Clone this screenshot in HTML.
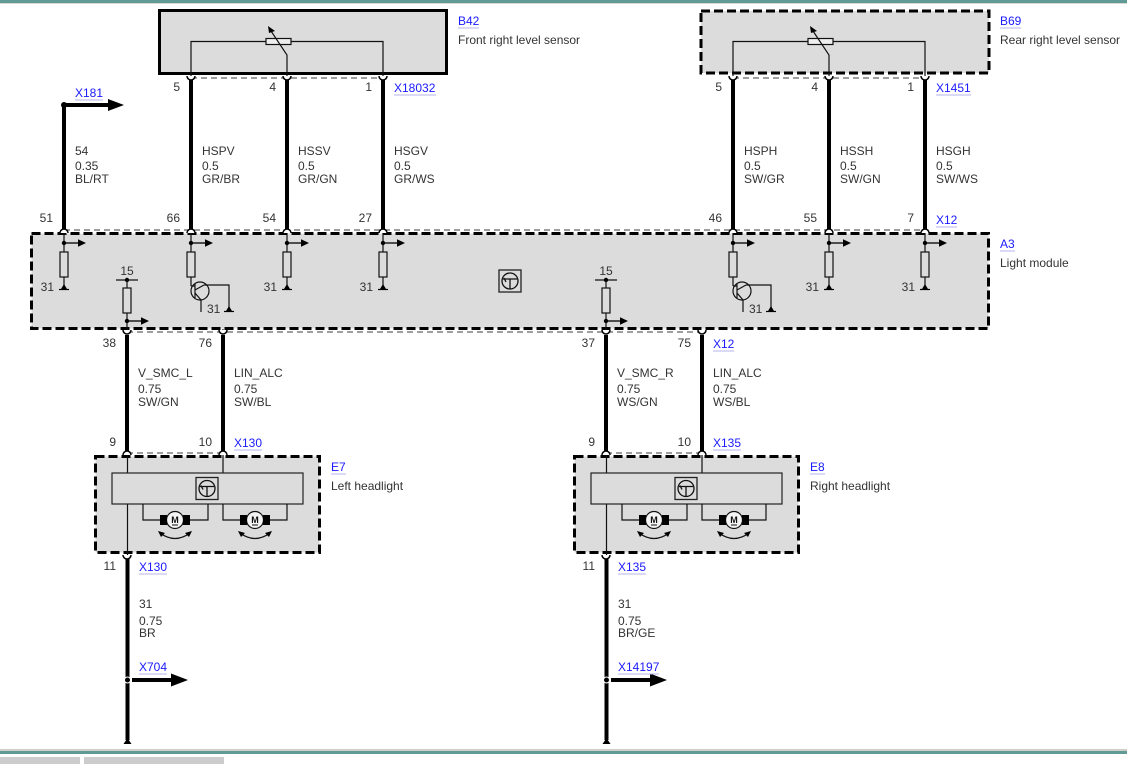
<!DOCTYPE html>
<html><head><meta charset="utf-8">
<style>
html,body{margin:0;padding:0;background:#fff;}
svg{display:block;}
text{font-family:"Liberation Sans",Arial,sans-serif;font-size:12px;fill:#333;}
.b{fill:#1a1aff;}
.ul{stroke:#b4b4ee;stroke-width:1;}
.tw{stroke:#000;stroke-width:4;fill:none;}
.th{stroke:#111;stroke-width:1.2;fill:none;}
.dsh{stroke:#000;stroke-width:3;stroke-dasharray:9 4;fill:#dcdcdc;}
.gd{stroke:#666;stroke-width:1.3;stroke-dasharray:6 4;fill:none;}
.cap{stroke:#000;stroke-width:1.5;fill:#fff;}
</style></head>
<body>
<svg width="1127" height="764" viewBox="0 0 1127 764" xmlns="http://www.w3.org/2000/svg">
<defs>
  <g id="ctl">
    <rect x="-11" y="-11" width="22" height="22" fill="#dcdcdc" stroke="#222" stroke-width="1.3"/>
    <circle cx="0" cy="0" r="8" fill="none" stroke="#111" stroke-width="1.3"/>
    <path d="M-7,-2 L7,-2 M0,-2 L0,8 M-6,-3 L-4,1" stroke="#111" stroke-width="1.3" fill="none"/>
  </g>
  <g id="gnd">
    <polygon points="0,-4 -3,1 3,1" fill="#000"/>
    <line x1="-5" y1="1.5" x2="5" y2="1.5" stroke="#000" stroke-width="1.2"/>
  </g>
  <g id="arr">
    <line x1="0" y1="0" x2="15" y2="0" stroke="#000" stroke-width="1.3"/>
    <polygon points="14,-3.8 22,0 14,3.8" fill="#000"/>
  </g>
  <g id="motor">
    <circle cx="0" cy="0" r="8.5" fill="#f4f4f4" stroke="#111" stroke-width="1.2"/>
    <rect x="-15" y="-5" width="7" height="10" fill="#000"/>
    <rect x="8" y="-5" width="7" height="10" fill="#000"/>
    <text x="0" y="3" text-anchor="middle" style="font-size:9px;font-weight:bold;fill:#111">M</text>
    <line x1="-3" y1="5" x2="3" y2="5" stroke="#111" stroke-width="1"/>
    <path d="M-15,13 Q0,24 15,13" stroke="#111" stroke-width="1.3" fill="none"/>
    <polygon points="-17,11 -10,13 -14,17" fill="#000"/>
    <polygon points="17,11 10,13 14,17" fill="#000"/>
  </g>
</defs>

<!-- top/bottom frame -->
<rect x="0" y="0" width="1127" height="3" fill="#5f9a96"/>
<rect x="0" y="3" width="1127" height="1" fill="#d8d8d0"/>
<rect x="0" y="749" width="1127" height="2" fill="#cfcfc8"/>
<rect x="0" y="751" width="1127" height="3" fill="#5f9a96"/>
<rect x="0" y="757" width="80" height="7" fill="#cccccc"/>
<rect x="84" y="757" width="140" height="7" fill="#cccccc"/>

<!-- B42 sensor -->
<rect x="159.5" y="10.5" width="287" height="63" fill="#dcdcdc" stroke="#000" stroke-width="3"/>
<polyline class="th" points="191,76 191,41.5 266,41.5"/>
<rect x="266" y="38.5" width="25" height="6" fill="#eee" stroke="#111" stroke-width="1.2"/>
<polyline class="th" points="291,41.5 383,41.5 383,76"/>
<polyline class="th" points="287,76 287,55 271,31"/>
<polygon points="268,26 275,31 269,33" fill="#000"/>
<line class="gd" x1="191" y1="78" x2="383" y2="78"/>
<text x="458" y="25" class="b">B42</text><line class="ul" x1="458" y1="28" x2="479" y2="28"/>
<text x="458" y="44">Front right level sensor</text>

<!-- B69 sensor -->
<rect x="701" y="11" width="288" height="62" class="dsh"/>
<polyline class="th" points="733,76 733,41.5 808,41.5"/>
<rect x="808" y="38.5" width="25" height="6" fill="#eee" stroke="#111" stroke-width="1.2"/>
<polyline class="th" points="833,41.5 925,41.5 925,76"/>
<polyline class="th" points="829,76 829,55 813,31"/>
<polygon points="810,26 817,31 811,33" fill="#000"/>
<line class="gd" x1="733" y1="78" x2="925" y2="78"/>
<text x="1000" y="25" class="b">B69</text><line class="ul" x1="1000" y1="28" x2="1021" y2="28"/>
<text x="1000" y="44">Rear right level sensor</text>

<!-- sensor to module wires -->
<g class="tw">
<line x1="191" y1="80" x2="191" y2="229"/>
<line x1="287" y1="80" x2="287" y2="229"/>
<line x1="383" y1="80" x2="383" y2="229"/>
<line x1="733" y1="80" x2="733" y2="229"/>
<line x1="829" y1="80" x2="829" y2="229"/>
<line x1="925" y1="80" x2="925" y2="229"/>
<line x1="64" y1="105" x2="64" y2="229"/>
<line x1="64" y1="105" x2="110" y2="105"/>
</g>
<polygon points="108,99 124,105 108,111" fill="#000"/>
<circle cx="64" cy="105" r="3" fill="#000"/>
<g>
<path class="cap" d="M187,76 A4,4 0 0 0 195,76"/>
<path class="cap" d="M283,76 A4,4 0 0 0 291,76"/>
<path class="cap" d="M379,76 A4,4 0 0 0 387,76"/>
<path class="cap" d="M729,76 A4,4 0 0 0 737,76"/>
<path class="cap" d="M825,76 A4,4 0 0 0 833,76"/>
<path class="cap" d="M921,76 A4,4 0 0 0 929,76"/>
</g>
<text x="180" y="91" text-anchor="end">5</text>
<text x="276" y="91" text-anchor="end">4</text>
<text x="372" y="91" text-anchor="end">1</text>
<text x="394" y="92" class="b">X18032</text><line class="ul" x1="394" y1="95" x2="436" y2="95"/>
<text x="722" y="91" text-anchor="end">5</text>
<text x="818" y="91" text-anchor="end">4</text>
<text x="914" y="91" text-anchor="end">1</text>
<text x="936" y="92" class="b">X1451</text><line class="ul" x1="936" y1="95" x2="971" y2="95"/>
<text x="75" y="97" class="b">X181</text><line class="ul" x1="75" y1="100" x2="103" y2="100"/>

<g>
<text x="75" y="155">54</text><text x="75" y="170">0.35</text><text x="75" y="183">BL/RT</text>
<text x="202" y="155">HSPV</text><text x="202" y="170">0.5</text><text x="202" y="183">GR/BR</text>
<text x="298" y="155">HSSV</text><text x="298" y="170">0.5</text><text x="298" y="183">GR/GN</text>
<text x="394" y="155">HSGV</text><text x="394" y="170">0.5</text><text x="394" y="183">GR/WS</text>
<text x="744" y="155">HSPH</text><text x="744" y="170">0.5</text><text x="744" y="183">SW/GR</text>
<text x="840" y="155">HSSH</text><text x="840" y="170">0.5</text><text x="840" y="183">SW/GN</text>
<text x="936" y="155">HSGH</text><text x="936" y="170">0.5</text><text x="936" y="183">SW/WS</text>
</g>
<text x="53" y="222" text-anchor="end">51</text>
<text x="180" y="222" text-anchor="end">66</text>
<text x="276" y="222" text-anchor="end">54</text>
<text x="372" y="222" text-anchor="end">27</text>
<text x="722" y="222" text-anchor="end">46</text>
<text x="817" y="222" text-anchor="end">55</text>
<text x="914" y="222" text-anchor="end">7</text>
<text x="936" y="224" class="b">X12</text><line class="ul" x1="936" y1="227" x2="957" y2="227"/>

<!-- A3 module -->
<rect x="31.5" y="233.5" width="957" height="95" class="dsh"/>
<line class="gd" x1="64" y1="230" x2="925" y2="230"/>
<line class="gd" x1="127" y1="332" x2="702" y2="332"/>
<text x="1000" y="248" class="b">A3</text><line class="ul" x1="1000" y1="251" x2="1015" y2="251"/>
<text x="1000" y="267">Light module</text>
<use href="#ctl" x="510" y="281"/>

<!-- simple resistor channels -->
<g>
  <!-- x=64 -->
  <line class="th" x1="64" y1="231" x2="64" y2="252"/><rect x="60" y="252" width="8" height="25" fill="#dcdcdc" stroke="#111" stroke-width="1.2"/><line class="th" x1="64" y1="277" x2="64" y2="286"/><circle cx="64" cy="243" r="2.2" fill="#000"/><use href="#arr" x="64" y="243"/><use href="#gnd" x="64" y="288"/><text x="54" y="291" text-anchor="end">31</text>
  <!-- x=287 -->
  <line class="th" x1="287" y1="231" x2="287" y2="252"/><rect x="283" y="252" width="8" height="25" fill="#dcdcdc" stroke="#111" stroke-width="1.2"/><line class="th" x1="287" y1="277" x2="287" y2="286"/><circle cx="287" cy="243" r="2.2" fill="#000"/><use href="#arr" x="287" y="243"/><use href="#gnd" x="287" y="288"/><text x="277" y="291" text-anchor="end">31</text>
  <!-- x=383 -->
  <line class="th" x1="383" y1="231" x2="383" y2="252"/><rect x="379" y="252" width="8" height="25" fill="#dcdcdc" stroke="#111" stroke-width="1.2"/><line class="th" x1="383" y1="277" x2="383" y2="286"/><circle cx="383" cy="243" r="2.2" fill="#000"/><use href="#arr" x="383" y="243"/><use href="#gnd" x="383" y="288"/><text x="373" y="291" text-anchor="end">31</text>
  <!-- x=829 -->
  <line class="th" x1="829" y1="231" x2="829" y2="252"/><rect x="825" y="252" width="8" height="25" fill="#dcdcdc" stroke="#111" stroke-width="1.2"/><line class="th" x1="829" y1="277" x2="829" y2="286"/><circle cx="829" cy="243" r="2.2" fill="#000"/><use href="#arr" x="829" y="243"/><use href="#gnd" x="829" y="288"/><text x="819" y="291" text-anchor="end">31</text>
  <!-- x=925 -->
  <line class="th" x1="925" y1="231" x2="925" y2="252"/><rect x="921" y="252" width="8" height="25" fill="#dcdcdc" stroke="#111" stroke-width="1.2"/><line class="th" x1="925" y1="277" x2="925" y2="286"/><circle cx="925" cy="243" r="2.2" fill="#000"/><use href="#arr" x="925" y="243"/><use href="#gnd" x="925" y="288"/><text x="915" y="291" text-anchor="end">31</text>
</g>

<!-- transistor channels -->
<g>
  <line class="th" x1="191" y1="231" x2="191" y2="252"/><rect x="187" y="252" width="8" height="25" fill="#dcdcdc" stroke="#111" stroke-width="1.2"/><circle cx="191" cy="243" r="2.2" fill="#000"/><use href="#arr" x="191" y="243"/>
  <line class="th" x1="191" y1="277" x2="191" y2="286"/>
  <circle cx="200" cy="291" r="9" fill="none" stroke="#111" stroke-width="1.2"/>
  <path class="th" d="M191,286 L195,286 M195,284 L195,298 M195,290 L204,285 M204,285 L229,285 L229,308 M195,293 L201,300 L201,312"/>
  <use href="#gnd" x="229" y="310"/>
  <text x="207" y="313">31</text>

  <line class="th" x1="733" y1="231" x2="733" y2="252"/><rect x="729" y="252" width="8" height="25" fill="#dcdcdc" stroke="#111" stroke-width="1.2"/><circle cx="733" cy="243" r="2.2" fill="#000"/><use href="#arr" x="733" y="243"/>
  <line class="th" x1="733" y1="277" x2="733" y2="286"/>
  <circle cx="742" cy="291" r="9" fill="none" stroke="#111" stroke-width="1.2"/>
  <path class="th" d="M733,286 L737,286 M737,284 L737,298 M737,290 L746,285 M746,285 L771,285 L771,308 M737,293 L743,300 L743,312"/>
  <use href="#gnd" x="771" y="310"/>
  <text x="749" y="313">31</text>
</g>

<!-- 15 supply channels -->
<g>
  <text x="127" y="275" text-anchor="middle">15</text>
  <line class="th" x1="116" y1="280" x2="138" y2="280"/><circle cx="127" cy="280" r="2.2" fill="#000"/>
  <line class="th" x1="127" y1="280" x2="127" y2="288"/><rect x="123" y="288" width="8" height="25" fill="#dcdcdc" stroke="#111" stroke-width="1.2"/>
  <line class="th" x1="127" y1="313" x2="127" y2="331"/><circle cx="127" cy="321" r="2.2" fill="#000"/><use href="#arr" x="127" y="321"/>
  <line class="th" x1="223" y1="329" x2="223" y2="331"/>

  <text x="606" y="275" text-anchor="middle">15</text>
  <line class="th" x1="595" y1="280" x2="617" y2="280"/><circle cx="606" cy="280" r="2.2" fill="#000"/>
  <line class="th" x1="606" y1="280" x2="606" y2="288"/><rect x="602" y="288" width="8" height="25" fill="#dcdcdc" stroke="#111" stroke-width="1.2"/>
  <line class="th" x1="606" y1="313" x2="606" y2="331"/><circle cx="606" cy="321" r="2.2" fill="#000"/><use href="#arr" x="606" y="321"/>
</g>

<!-- top caps module -->
<g>
<path class="cap" d="M60,233 A4,4 0 0 1 68,233"/>
<path class="cap" d="M187,233 A4,4 0 0 1 195,233"/>
<path class="cap" d="M283,233 A4,4 0 0 1 291,233"/>
<path class="cap" d="M379,233 A4,4 0 0 1 387,233"/>
<path class="cap" d="M729,233 A4,4 0 0 1 737,233"/>
<path class="cap" d="M825,233 A4,4 0 0 1 833,233"/>
<path class="cap" d="M921,233 A4,4 0 0 1 929,233"/>
</g>

<!-- module to headlights -->
<g class="tw">
<line x1="127" y1="335" x2="127" y2="451"/>
<line x1="223" y1="335" x2="223" y2="451"/>
<line x1="606" y1="335" x2="606" y2="451"/>
<line x1="702" y1="335" x2="702" y2="451"/>
</g>
<g>
<path class="cap" d="M123,330 A4,4 0 0 0 131,330"/>
<path class="cap" d="M219,330 A4,4 0 0 0 227,330"/>
<path class="cap" d="M602,330 A4,4 0 0 0 610,330"/>
<path class="cap" d="M698,330 A4,4 0 0 0 706,330"/>
</g>
<text x="116" y="347" text-anchor="end">38</text>
<text x="212" y="347" text-anchor="end">76</text>
<text x="595" y="347" text-anchor="end">37</text>
<text x="691" y="347" text-anchor="end">75</text>
<text x="713" y="348" class="b">X12</text><line class="ul" x1="713" y1="351" x2="734" y2="351"/>
<g>
<text x="138" y="377">V_SMC_L</text><text x="138" y="393">0.75</text><text x="138" y="406">SW/GN</text>
<text x="234" y="377">LIN_ALC</text><text x="234" y="393">0.75</text><text x="234" y="406">SW/BL</text>
<text x="617" y="377">V_SMC_R</text><text x="617" y="393">0.75</text><text x="617" y="406">WS/GN</text>
<text x="713" y="377">LIN_ALC</text><text x="713" y="393">0.75</text><text x="713" y="406">WS/BL</text>
</g>
<text x="116" y="446" text-anchor="end">9</text>
<text x="212" y="446" text-anchor="end">10</text>
<text x="234" y="447" class="b">X130</text><line class="ul" x1="234" y1="450" x2="262" y2="450"/>
<text x="595" y="446" text-anchor="end">9</text>
<text x="691" y="446" text-anchor="end">10</text>
<text x="713" y="447" class="b">X135</text><line class="ul" x1="713" y1="450" x2="741" y2="450"/>

<!-- headlights -->
<g id="hl">
  <rect x="95.5" y="456.5" width="224" height="96" class="dsh"/>
  <line class="gd" x1="127" y1="453" x2="223" y2="453"/>
  <line class="th" x1="127.5" y1="454" x2="127.5" y2="555"/>
  <line class="th" x1="223" y1="454" x2="223" y2="473"/>
  <rect x="112" y="473" width="191" height="31" fill="#dcdcdc" stroke="#222" stroke-width="1.2"/>
  <use href="#ctl" x="207" y="488.5"/>
  <polyline class="th" points="143,504 143,520 160,520"/>
  <polyline class="th" points="190,520 208,520 208,504"/>
  <polyline class="th" points="223,504 223,520 240,520"/>
  <polyline class="th" points="270,520 287,520 287,504"/>
  <use href="#motor" x="175" y="520"/>
  <use href="#motor" x="255" y="520"/>
  <path class="cap" d="M123,455 A4,4 0 0 1 131,455"/>
  <path class="cap" d="M219,455 A4,4 0 0 1 227,455"/>
  <path class="cap" d="M123,555 A4,4 0 0 0 131,555"/>
</g>
<use href="#hl" x="479" y="0"/>
<text x="331" y="471" class="b">E7</text><line class="ul" x1="331" y1="474" x2="346" y2="474"/>
<text x="331" y="490">Left headlight</text>
<text x="810" y="471" class="b">E8</text><line class="ul" x1="810" y1="474" x2="825" y2="474"/>
<text x="810" y="490">Right headlight</text>

<!-- lower ground wires -->
<g class="tw">
<line x1="127.5" y1="559" x2="127.5" y2="740"/>
<line x1="606.5" y1="559" x2="606.5" y2="740"/>
<line x1="132" y1="680" x2="172" y2="680"/>
<line x1="611" y1="680" x2="651" y2="680"/>
</g>
<polygon points="171,673.5 188,680 171,686.5" fill="#000"/>
<polygon points="650,673.5 667,680 650,686.5" fill="#000"/>
<circle cx="127.5" cy="680" r="3" fill="#000" stroke="#fff" stroke-width="1"/>
<circle cx="606.5" cy="680" r="3" fill="#000" stroke="#fff" stroke-width="1"/>
<polygon points="127.5,738 123.5,744 131.5,744" fill="#000"/>
<polygon points="606.5,738 602.5,744 610.5,744" fill="#000"/>

<text x="116" y="570" text-anchor="end">11</text>
<text x="139" y="571" class="b">X130</text><line class="ul" x1="139" y1="574" x2="167" y2="574"/>
<text x="139" y="608">31</text><text x="139" y="625">0.75</text><text x="139" y="637">BR</text>
<text x="139" y="671" class="b">X704</text><line class="ul" x1="139" y1="674" x2="167" y2="674"/>

<text x="595" y="570" text-anchor="end">11</text>
<text x="618" y="571" class="b">X135</text><line class="ul" x1="618" y1="574" x2="646" y2="574"/>
<text x="618" y="608">31</text><text x="618" y="625">0.75</text><text x="618" y="637">BR/GE</text>
<text x="618" y="671" class="b">X14197</text><line class="ul" x1="618" y1="674" x2="659" y2="674"/>
</svg>
</body></html>
